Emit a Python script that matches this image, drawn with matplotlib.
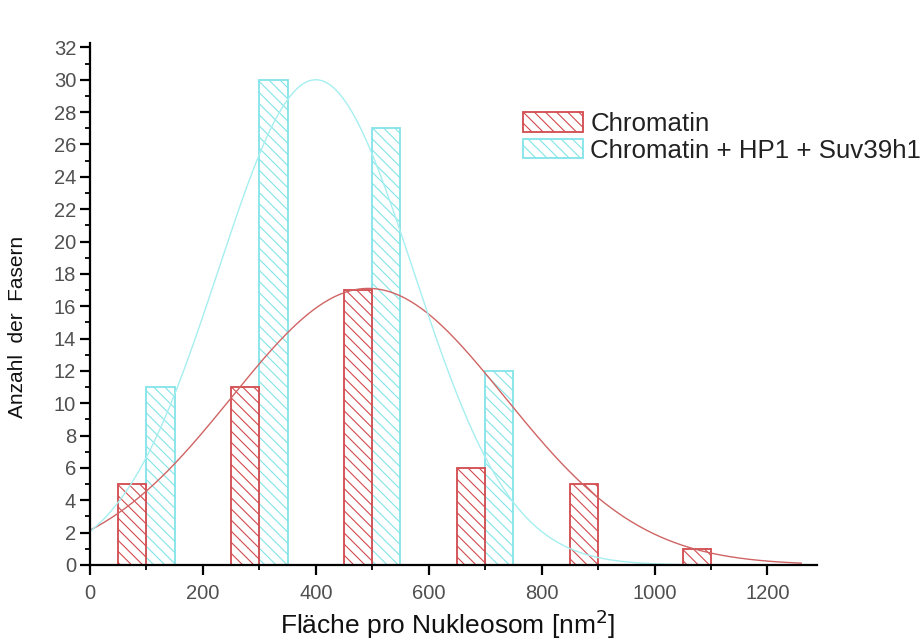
import matplotlib.pyplot as plt
import numpy as np

plt.rcParams['font.family'] = ['Liberation Sans', 'DejaVu Sans']
plt.rcParams['hatch.linewidth'] = 0.8

# Histogramm-Daten (linke Kante der Klasse, Breite 50 nm^2)
chrom_left = [50, 250, 450, 650, 850, 1050]
chrom_count = [5, 11, 17, 6, 5, 1]
hp1_left = [100, 300, 500, 700]
hp1_count = [11, 30, 27, 12]
bin_width = 50

# Gauss-Fit Parameter (Zentrum, Breite, Amplitude)
chrom_fit = (493, 242, 17.1)
hp1_fit = (400, 173, 30.0)

red = '#d24a4e'
cyan = '#82e4e8'

fig = plt.figure(figsize=(9.22, 6.41), dpi=100)
ax = fig.add_axes([0.0976, 0.1186, 0.788, 0.815])

ax.bar(hp1_left, hp1_count, width=bin_width, align='edge', facecolor='white',
       edgecolor=cyan, hatch='\\\\\\', linewidth=1.3, label='Chromatin + HP1 + Suv39h1')
ax.bar(chrom_left, chrom_count, width=bin_width, align='edge', facecolor='white',
       edgecolor=red, hatch='\\\\\\', linewidth=1.3, label='Chromatin')

x = np.linspace(0, 1260, 400)
c, s, a = chrom_fit
ax.plot(x, a * np.exp(-(x - c) ** 2 / (2 * s ** 2)), color='#d06464', lw=1.0)
c, s, a = hp1_fit
ax.plot(x, a * np.exp(-(x - c) ** 2 / (2 * s ** 2)), color='#a6eef0', lw=1.0)

ax.set_xlim(0, 1287)
ax.set_ylim(0, 32.3)
ax.set_xticks(np.arange(0, 1201, 200))
ax.set_xticks(np.arange(100, 1201, 200), minor=True)
ax.set_yticks(np.arange(0, 33, 2))
ax.set_yticks(np.arange(1, 32, 2), minor=True)
ax.spines['top'].set_visible(False)
ax.spines['right'].set_visible(False)
ax.spines['left'].set_linewidth(1.6)
ax.spines['bottom'].set_linewidth(1.6)
ax.tick_params(axis='both', which='major', direction='out', length=7, width=1.6,
               labelsize=14.5, labelcolor='#505050')
ax.tick_params(axis='both', which='minor', direction='out', length=3.5, width=1.3)
ax.tick_params(axis='x', which='major', pad=7)
ax.tick_params(axis='y', which='major', pad=3)

fig.text(0.486, 0.011, 'Fläche pro Nukleosom [nm$^2$]', fontsize=19,
         ha='center', va='baseline', color='#111111')
fig.text(0.0195, 0.49, 'Anzahl  der  Fasern', rotation=90, fontsize=15,
         ha='center', va='center', color='#111111')

handles, labels = ax.get_legend_handles_labels()
leg = ax.legend(handles[::-1], labels[::-1], loc='upper left', bbox_to_anchor=(0.596, 0.867),
                frameon=False, fontsize=18.6, handlelength=2.33, handleheight=0.78,
                handletextpad=0.27, labelspacing=0.1, borderaxespad=0, borderpad=0)
for t in leg.get_texts():
    t.set_color('#222222')

fig.savefig('out.png', dpi=100)
